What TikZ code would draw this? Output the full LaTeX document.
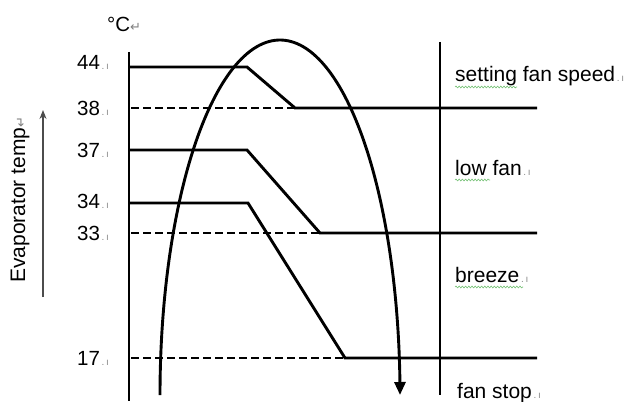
\documentclass[tikz,border=0pt]{standalone}
\usepackage{fontspec}
\setmainfont{Liberation Sans}
\newfontfamily\symfont{DejaVu Sans}
\usetikzlibrary{arrows.meta,decorations.pathmorphing}
\newcommand\parmark{{\color{black!45}\fontsize{10}{10}\selectfont\,.\,ı}}
\newcommand\retmark{{\color{black!50}\symfont\fontsize{13}{13}\selectfont ↵}}
\begin{document}
\begin{tikzpicture}[x=1pt,y=-1pt,
  heavy/.style={line width=2.9pt, black, line join=miter},
  dashline/.style={line width=1.7pt, black, dash pattern=on 8pt off 4pt},
  numlbl/.style={font=\fontsize{20.5}{20.5}\selectfont, inner sep=0pt, anchor=base west},
  zonelbl/.style={font=\fontsize{21}{21}\selectfont, inner sep=0pt, anchor=base west},
  squiggle/.style={draw=green!55!black!55, line width=0.6pt, decorate,
    decoration={snake, amplitude=0.9pt, segment length=3.2pt}},
  grayarrow/.style={draw=black!70, line width=1.1pt, -{Stealth[length=9pt,width=7pt]}}
]
\useasboundingbox (0,0) rectangle (628,401);

% axes
\coordinate (axT) at (129,52);
\coordinate (axB) at (129,401);
\coordinate (rT) at (440,42);
\coordinate (rB) at (440,395);
\draw[heavy] (axT) -- (axB);
\draw[heavy] (rT) -- (rB);

% level 44 / 38
\coordinate (h44a) at (129,67);
\coordinate (h44b) at (247,67);
\coordinate (h38b) at (295,108);
\coordinate (h38c) at (537,108);
\coordinate (d38a) at (131,108);
\draw[heavy] (h44a) -- (h44b) -- (h38b) -- (h38c);
\draw[dashline] (d38a) -- (h38b);

% level 37 / 33
\coordinate (h37a) at (129,150);
\coordinate (h37b) at (247,150);
\coordinate (h33b) at (320,233);
\coordinate (h33c) at (537,233);
\coordinate (d33a) at (131,233);
\draw[heavy] (h37a) -- (h37b) -- (h33b) -- (h33c);
\draw[dashline] (d33a) -- (h33b);

% level 34 / 17
\coordinate (h34a) at (129,203);
\coordinate (h34b) at (248,203);
\coordinate (h17b) at (345,358);
\coordinate (h17c) at (537,358);
\coordinate (d17a) at (131,358);
\draw[heavy] (h34a) -- (h34b) -- (h17b) -- (h17c);
\draw[dashline] (d17a) -- (h17b);

% arch curve
\draw[line width=2.9pt, -{Triangle[length=13pt,width=11pt]}]
  plot[domain=180:0, samples=120, smooth] ({280+120*cos(\x)}, {395-355*sin(\x)});

% numbers
\node[numlbl] (n44) at (77,70) {44\parmark};
\node[numlbl] (n38) at (77,115) {38\parmark};
\node[numlbl] (n37) at (77,157) {37\parmark};
\node[numlbl] (n34) at (77,208) {34\parmark};
\node[numlbl] (n33) at (77,240) {33\parmark};
\node[numlbl] (n17) at (77,365) {17\parmark};

% unit
\node[numlbl] (unit) at (107,32) {°C\retmark};

% zone labels
\node[zonelbl] (zset) at (455,82) {setting fan speed\parmark};
\node[zonelbl] (zlow) at (455,175) {low fan\parmark};
\node[zonelbl] (zbre) at (455,282) {breeze\parmark};
\node[zonelbl] (zstop) at (457,398) {fan stop\parmark};
\draw[squiggle] (455,87) -- (517,87);
\draw[squiggle] (455,180) -- (490,180);
\draw[squiggle] (455,287) -- (523,287);

% vertical axis title
\node[zonelbl, rotate=90] (etemp) at (25,283) {Evaporator temp\retmark};
\coordinate (gaB) at (43,297);
\coordinate (gaT) at (43,110);
\draw[grayarrow] (gaB) -- (gaT);
\end{tikzpicture}
\end{document}
